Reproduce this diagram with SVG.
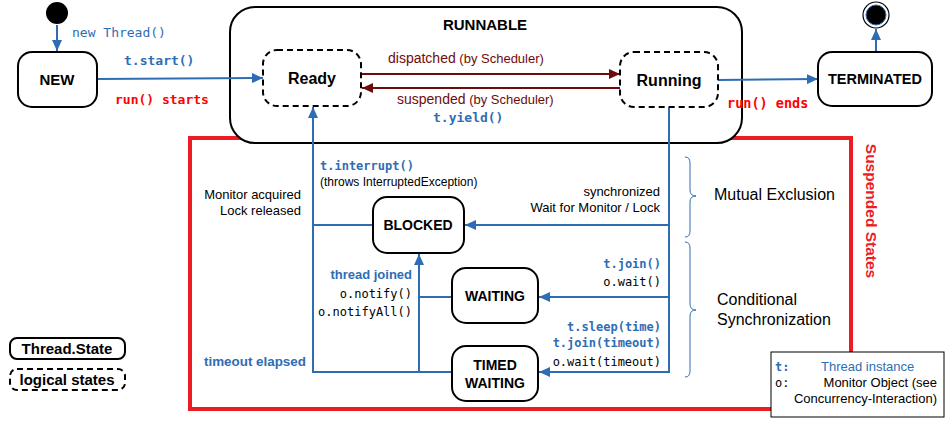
<svg xmlns="http://www.w3.org/2000/svg" width="948" height="423" viewBox="0 0 948 423">
<style>
.node{fill:#fff;stroke:#000;stroke-width:2}
.dash{fill:#fff;stroke:#000;stroke-width:2;stroke-dasharray:6,4}
.lbl{font-family:"Liberation Sans",Arial,sans-serif;font-weight:bold;font-size:14px;fill:#000;text-anchor:middle}
.big{font-size:16px}
.con{fill:none;stroke:#2e6db4;stroke-width:2}
.dr{fill:none;stroke:#6e0b0b;stroke-width:2}
.mono{font-family:"DejaVu Sans Mono","Liberation Mono",monospace;font-size:12px}
.monob{font-family:"DejaVu Sans Mono","Liberation Mono",monospace;font-size:13px;font-weight:bold}
.sans{font-family:"Liberation Sans",Arial,sans-serif;font-size:13px}
.blue{fill:#2e6db4}
.red{fill:#ff0000}
.maroon{fill:#6e0b0b}
.blk{fill:#000}
.r{text-anchor:end}
.brace{fill:none;stroke:#2e6db4;stroke-width:1}
</style>
<defs>
<marker id="ab" markerUnits="userSpaceOnUse" markerWidth="11" markerHeight="10" refX="11" refY="5" orient="auto"><path d="M0,0 L11,5 L0,10 z" fill="#2e6db4"/></marker>
<marker id="ar" markerUnits="userSpaceOnUse" markerWidth="11" markerHeight="10" refX="11" refY="5" orient="auto"><path d="M0,0 L11,5 L0,10 z" fill="#6e0b0b"/></marker>
</defs>

<rect id="suspended-box" x="190" y="138" width="661" height="271" fill="none" stroke="#ed1c24" stroke-width="4"/>
<text class="lbl" transform="translate(866,211) rotate(90)" style="fill:#ed1c24;font-size:15.5px">Suspended States</text>

<g id="runnable">
<rect x="230" y="7" width="512" height="136" rx="25" class="node"/>
<text class="lbl" x="485" y="30" style="font-size:15px">RUNNABLE</text>
</g>

<g id="connectors">
<line class="con" x1="57" y1="25" x2="57" y2="51" marker-end="url(#ab)"/>
<line class="con" x1="97" y1="79" x2="263" y2="78" marker-end="url(#ab)"/>
<line class="dr" x1="361" y1="74" x2="620" y2="74" marker-end="url(#ar)"/>
<line class="dr" x1="620" y1="88" x2="362" y2="88" marker-end="url(#ar)"/>
<line class="con" x1="718" y1="80" x2="818" y2="79" marker-end="url(#ab)"/>
<line class="con" x1="876" y1="52" x2="876" y2="29" marker-end="url(#ab)"/>
<polyline class="con" points="452,372 313,372 313,107" marker-end="url(#ab)"/>
<line class="con" x1="373" y1="225" x2="313" y2="225"/>
<polyline class="con" points="669,107 669,372 539,372" marker-end="url(#ab)"/>
<line class="con" x1="669" y1="225" x2="465" y2="225" marker-end="url(#ab)"/>
<line class="con" x1="669" y1="297" x2="539" y2="297" marker-end="url(#ab)"/>
<line class="con" x1="419" y1="372" x2="419" y2="254" marker-end="url(#ab)"/>
<line class="con" x1="452" y1="297" x2="419" y2="297"/>
</g>

<g id="initial">
<circle cx="57" cy="13" r="11" fill="#000"/>
</g>
<g id="final">
<circle cx="876" cy="15" r="13" fill="#fff" stroke="#000" stroke-width="1.2"/>
<circle cx="876" cy="15" r="10" fill="#000" stroke="#2e6db4" stroke-width="1"/>
</g>

<g id="new">
<rect x="18" y="52" width="79" height="55" rx="14" class="node"/>
<text class="lbl" x="57" y="85" style="font-size:15px">NEW</text>
</g>
<g id="ready">
<rect x="263" y="50" width="98" height="56" rx="14" class="dash"/>
<text class="lbl big" x="312" y="84">Ready</text>
</g>
<g id="running">
<rect x="620" y="52" width="98" height="55" rx="14" class="dash"/>
<text class="lbl big" x="669" y="86">Running</text>
</g>
<g id="terminated">
<rect x="818" y="52" width="114" height="54" rx="14" class="node"/>
<text class="lbl" x="875" y="84" style="font-size:14.5px">TERMINATED</text>
</g>
<g id="blocked">
<rect x="373" y="197" width="91" height="56" rx="14" class="node"/>
<text class="lbl" x="418" y="230">BLOCKED</text>
</g>
<g id="waiting">
<rect x="452" y="268" width="86" height="55" rx="14" class="node"/>
<text class="lbl" x="495" y="301">WAITING</text>
</g>
<g id="timed-waiting">
<rect x="452" y="346" width="86" height="55" rx="14" class="node"/>
<text class="lbl" x="495" y="370">TIMED</text>
<text class="lbl" x="495" y="388">WAITING</text>
</g>

<g id="labels">
<text class="monob blue" x="72" y="37" style="font-weight:normal">new Thread()</text>
<text class="monob blue" x="124" y="65">t.start()</text>
<text class="monob red" x="115" y="104">run() starts</text>
<text class="sans maroon" x="388" y="63"><tspan style="font-size:14px">dispatched</tspan> (by Scheduler)</text>
<text class="sans maroon" x="397" y="104"><tspan style="font-size:14px">suspended</tspan> (by Scheduler)</text>
<text class="monob blue" x="433" y="122">t.yield()</text>
<text class="monob red" x="727" y="108" style="font-size:13.5px">run() ends</text>

<text class="mono blue" x="320" y="170" style="font-weight:bold">t.interrupt()</text>
<text class="sans blk" x="320" y="186" style="font-size:12px">(throws InterruptedException)</text>
<text class="sans blk r" x="301" y="199">Monitor acquired</text>
<text class="sans blk r" x="301" y="215">Lock released</text>
<text class="sans blk r" x="660" y="196">synchronized</text>
<text class="sans blk r" x="660" y="212">Wait for Monitor / Lock</text>

<text class="sans blue r" x="412" y="279" style="font-weight:bold">thread joined</text>
<text class="mono blk r" x="412" y="298">o.notify()</text>
<text class="mono blk r" x="412" y="316">o.notifyAll()</text>
<text class="sans blue" x="204" y="366" style="font-weight:bold;font-size:13.4px">timeout elapsed</text>

<text class="mono blue r" x="661" y="268" style="font-weight:bold">t.join()</text>
<text class="mono blk r" x="661" y="286">o.wait()</text>
<text class="mono blue r" x="661" y="331" style="font-weight:bold">t.sleep(time)</text>
<text class="mono blue r" x="661" y="347" style="font-weight:bold">t.join(timeout)</text>
<text class="mono blk r" x="661" y="366">o.wait(timeout)</text>

<path class="brace" d="M685,157 Q690,157 690,163 L690,190 Q690,196 696,196 Q690,196 690,202 L690,231 Q690,237 685,237"/>
<path class="brace" d="M685,242 Q690,242 690,248 L690,304 Q690,310 696,310 Q690,310 690,316 L690,371 Q690,377 685,377"/>
<text class="sans blk" x="714" y="200" style="font-size:16px">Mutual Exclusion</text>
<text class="sans blk" x="717" y="305" style="font-size:16px">Conditional</text>
<text class="sans blk" x="717" y="325" style="font-size:16px">Synchronization</text>
</g>

<g id="legend-states">
<rect x="10" y="338" width="115" height="21" rx="7" class="node"/>
<text class="lbl" x="67" y="354" style="font-size:15px">Thread.State</text>
<rect x="10" y="369" width="115" height="21" rx="7" class="dash"/>
<text class="lbl" x="67" y="385" style="font-size:15px">logical states</text>
</g>

<g id="legend-notation">
<rect x="771" y="352" width="173" height="65" fill="#fff" stroke="#000" stroke-width="1"/>
<text class="mono blue" x="775" y="371" style="font-weight:bold">t:</text>
<text class="sans blue" x="821" y="371">Thread instance</text>
<text class="mono blk" x="775" y="387">o:</text>
<text class="sans blk r" x="937" y="387">Monitor Object (see</text>
<text class="sans blk r" x="937" y="403">Concurrency-Interaction)</text>
</g>
</svg>
